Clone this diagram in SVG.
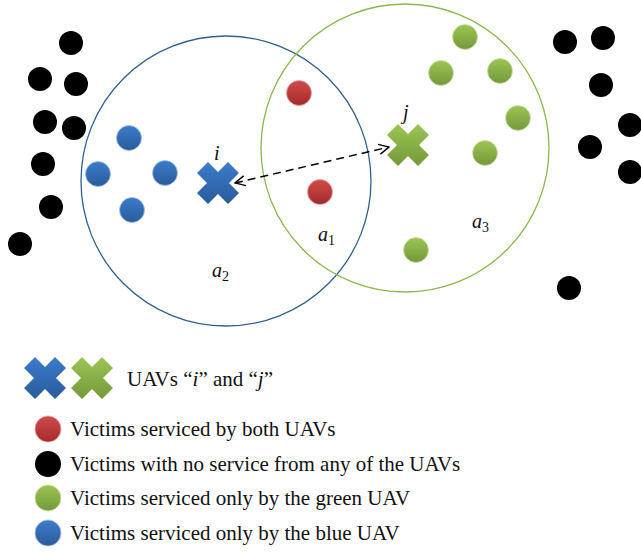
<svg xmlns="http://www.w3.org/2000/svg" width="641" height="552" viewBox="0 0 641 552">
  <defs>
    <linearGradient id="gRed" x1="0" y1="0" x2="0" y2="1">
      <stop offset="0" stop-color="#d24b4b"/>
      <stop offset="1" stop-color="#a42a2a"/>
    </linearGradient>
    <linearGradient id="gGreen" x1="0" y1="0" x2="0" y2="1">
      <stop offset="0" stop-color="#9cc553"/>
      <stop offset="1" stop-color="#74993a"/>
    </linearGradient>
    <linearGradient id="gBlue" x1="0" y1="0" x2="0" y2="1">
      <stop offset="0" stop-color="#3b7ccb"/>
      <stop offset="1" stop-color="#2a5b9a"/>
    </linearGradient>
    <path id="cross" d="M0,-11 L10,-21 L21,-10 L11,0 L21,10 L10,21 L0,11 L-10,21 L-21,10 L-11,0 L-21,-10 L-10,-21 Z"/>
    <marker id="head" viewBox="0 0 12 12" refX="11" refY="6" markerWidth="12" markerHeight="12" markerUnits="userSpaceOnUse" orient="auto-start-reverse">
      <path d="M1,1 L11,6 L1,11" fill="none" stroke="#000" stroke-width="1.4"/>
    </marker>
  </defs>
  <style>
    .blk { fill: #000; }
    .red { fill: url(#gRed); stroke: #e7a0a0; stroke-width: 0.8; }
    .grn { fill: url(#gGreen); stroke: #cfe3ad; stroke-width: 0.8; }
    .blu { fill: url(#gBlue); stroke: #a6c2e6; stroke-width: 0.8; }
    .lbl { font-family: "Liberation Serif", "Times New Roman", serif; font-style: italic; font-size: 20px; fill: #111; }
    .sub { font-family: "Liberation Serif", "Times New Roman", serif; font-size: 14px; fill: #111; }
    .leg { font-family: "Liberation Serif", "Times New Roman", serif; font-size: 21px; fill: #111; }
  </style>

  <rect width="641" height="552" fill="#fff"/>

  <!-- coverage areas -->
  <g id="range-i">
    <circle cx="226" cy="181" r="145" fill="none" stroke="#2f5f91" stroke-width="1.3"/>
  </g>
  <g id="range-j">
    <circle cx="405" cy="148" r="144" fill="none" stroke="#8cb84a" stroke-width="1.3"/>
  </g>

  <!-- unserviced victims -->
  <g id="victims-none">
    <circle class="blk" cx="71" cy="43" r="12"/>
    <circle class="blk" cx="40" cy="79" r="12"/>
    <circle class="blk" cx="76" cy="84" r="12"/>
    <circle class="blk" cx="45" cy="122" r="12"/>
    <circle class="blk" cx="74" cy="128" r="12"/>
    <circle class="blk" cx="43" cy="164" r="12"/>
    <circle class="blk" cx="51" cy="207" r="12"/>
    <circle class="blk" cx="20" cy="244" r="12"/>
    <circle class="blk" cx="565" cy="42" r="12"/>
    <circle class="blk" cx="603" cy="38" r="12"/>
    <circle class="blk" cx="601" cy="85" r="12"/>
    <circle class="blk" cx="630" cy="125" r="12"/>
    <circle class="blk" cx="590" cy="147" r="12"/>
    <circle class="blk" cx="630" cy="172" r="12"/>
    <circle class="blk" cx="569" cy="288" r="12"/>
  </g>

  <!-- victims in both ranges -->
  <g id="victims-both">
    <circle class="red" cx="299" cy="93" r="12.5"/>
    <circle class="red" cx="320" cy="192" r="12.5"/>
  </g>

  <!-- victims in green range only -->
  <g id="victims-green">
    <circle class="grn" cx="465" cy="37" r="12.5"/>
    <circle class="grn" cx="441" cy="73" r="12.5"/>
    <circle class="grn" cx="500" cy="71" r="12.5"/>
    <circle class="grn" cx="518" cy="118" r="12.5"/>
    <circle class="grn" cx="485" cy="153" r="12.5"/>
    <circle class="grn" cx="416" cy="250" r="12.5"/>
  </g>

  <!-- victims in blue range only -->
  <g id="victims-blue">
    <circle class="blu" cx="129" cy="138" r="12.5"/>
    <circle class="blu" cx="98" cy="174" r="12.5"/>
    <circle class="blu" cx="165" cy="173" r="12.5"/>
    <circle class="blu" cx="132" cy="210" r="12.5"/>
  </g>

  <!-- UAVs -->
  <g id="uav-i">
    <use href="#cross" x="218" y="183" fill="url(#gBlue)"/>
    <text class="lbl" x="214" y="160">i</text>
  </g>
  <g id="uav-j">
    <use href="#cross" x="408" y="145" fill="url(#gGreen)"/>
    <text class="lbl" x="403" y="119">j</text>
  </g>

  <!-- link between UAVs -->
  <g id="connectors">
    <line x1="235" y1="183" x2="389" y2="147" stroke="#000" stroke-width="1.5" stroke-dasharray="8,5" marker-start="url(#head)" marker-end="url(#head)"/>
  </g>

  <!-- area labels -->
  <g id="area-labels">
    <text class="lbl" x="318" y="241">a<tspan class="sub" font-style="normal" dy="4">1</tspan></text>
    <text class="lbl" x="212" y="277">a<tspan class="sub" font-style="normal" dy="4">2</tspan></text>
    <text class="lbl" x="472" y="228">a<tspan class="sub" font-style="normal" dy="4">3</tspan></text>
  </g>

  <!-- legend -->
  <g id="legend">
    <use href="#cross" x="45" y="378" fill="url(#gBlue)"/>
    <use href="#cross" x="92" y="378" fill="url(#gGreen)"/>
    <text class="leg" x="127" y="386">UAVs “<tspan font-style="italic">i</tspan>” and “<tspan font-style="italic">j</tspan>”</text>
    <circle class="red" cx="48" cy="429" r="13"/>
    <text class="leg" x="70" y="436">Victims serviced by both UAVs</text>
    <circle class="blk" cx="48" cy="464" r="13"/>
    <text class="leg" x="70" y="471">Victims with no service from any of the UAVs</text>
    <circle class="grn" cx="48" cy="498" r="13"/>
    <text class="leg" x="70" y="505">Victims serviced only by the green UAV</text>
    <circle class="blu" cx="48" cy="533" r="13"/>
    <text class="leg" x="70" y="540">Victims serviced only by the blue UAV</text>
  </g>
</svg>
